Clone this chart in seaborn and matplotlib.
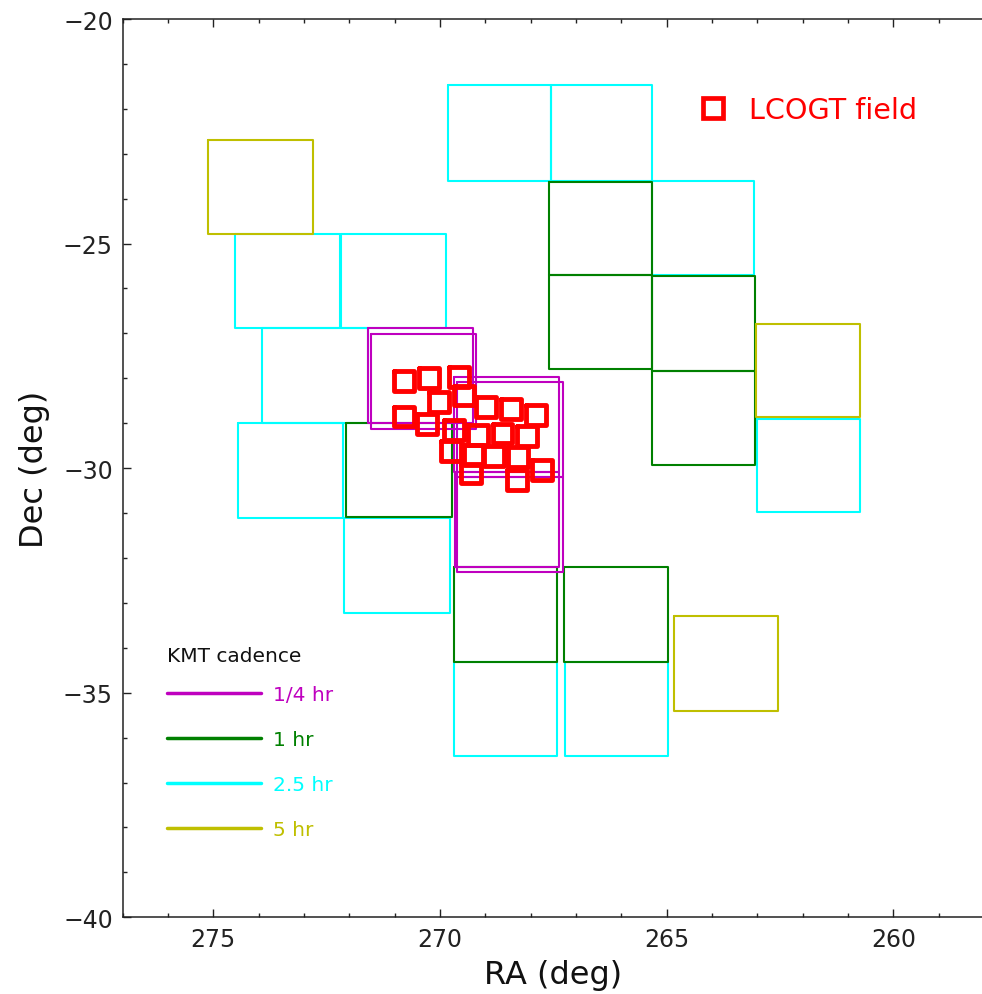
import numpy as np
import pandas as pd
import matplotlib
matplotlib.use("Agg")
import matplotlib.pyplot as plt
from matplotlib.lines import Line2D
from matplotlib.ticker import MultipleLocator
import seaborn as sns

# ---------------- data ----------------
# KMT fields: (RA east edge, RA west edge, Dec top, Dec bottom) in degrees
kmt_quarter_hr = [
    (271.58, 269.28, -26.88, -29.00),
    (271.52, 269.20, -27.01, -29.13),
    (269.69, 267.37, -27.97, -30.08),
    (269.62, 267.29, -28.08, -30.20),
    (269.67, 267.37, -30.08, -32.21),
    (269.62, 267.29, -30.20, -32.32),
]
kmt_one_hr = [
    (267.59, 265.33, -23.63, -25.70),
    (267.59, 265.33, -25.70, -27.79),
    (265.33, 263.05, -25.73, -27.83),
    (265.33, 263.05, -27.83, -29.94),
    (272.08, 269.74, -29.00, -31.09),
    (269.69, 267.42, -32.21, -34.31),
    (267.26, 264.98, -32.21, -34.31),
]
kmt_two_half_hr = [
    (269.83, 267.56, -21.48, -23.60),
    (267.55, 265.32, -21.48, -23.60),
    (265.32, 263.07, -23.61, -25.71),
    (274.51, 272.21, -24.79, -26.89),
    (272.19, 269.87, -24.79, -26.89),
    (273.93, 271.59, -26.89, -29.00),
    (274.45, 272.13, -29.00, -31.11),
    (272.11, 269.78, -31.11, -33.22),
    (269.69, 267.41, -34.32, -36.41),
    (267.24, 264.96, -34.32, -36.41),
    (263.01, 260.73, -28.90, -30.98),
]
kmt_five_hr = [
    (275.11, 272.79, -22.69, -24.79),
    (263.03, 260.73, -26.79, -28.87),
    (264.83, 262.54, -33.30, -35.40),
]
cadence_labels = ["1/4 hr", "1 hr", "2.5 hr", "5 hr"]
legend_title = "KMT cadence"

# LCOGT field centres (deg)
lco_ra = [270.79, 270.24, 269.58, 269.47, 270.02, 268.98, 268.43, 267.89,
          270.79, 270.29, 269.70, 269.16, 268.62, 268.09, 269.75, 269.26,
          268.80, 268.27, 269.32, 268.30, 267.74]
lco_dec = [-28.06, -27.99, -27.97, -28.38, -28.53, -28.64, -28.68, -28.82,
           -28.85, -29.02, -29.15, -29.26, -29.23, -29.29, -29.62, -29.70,
           -29.73, -29.76, -30.12, -30.27, -30.04]
lco_size = 0.44  # deg, side of LCOGT field

# ---------------- build outline tables ----------------
rows = []
fid = 0
for lab, fields in zip(cadence_labels,
                       [kmt_quarter_hr, kmt_one_hr, kmt_two_half_hr, kmt_five_hr]):
    for (ra1, ra2, d1, d2) in fields:
        for ra, de in [(ra1, d1), (ra2, d1), (ra2, d2), (ra1, d2), (ra1, d1)]:
            rows.append(dict(ra=ra, dec=de, field=fid, cadence=lab))
        fid += 1
kmt_df = pd.DataFrame(rows)

lrows = []
h = lco_size / 2
for i, (ra, de) in enumerate(zip(lco_ra, lco_dec)):
    for dx, dy in [(h, h), (-h, h), (-h, -h), (h, -h), (h, h)]:
        lrows.append(dict(ra=ra + dx, dec=de + dy, field=i))
lco_df = pd.DataFrame(lrows)

# ---------------- style ----------------
sns.set_style("white")
plt.rcParams["font.family"] = ["DejaVu Sans"]

colors = {"1/4 hr": (0.75, 0, 0.75), "1 hr": (0, 0.5, 0),
          "2.5 hr": (0, 1, 1), "5 hr": (0.75, 0.75, 0)}

W, H = 982, 995
fig = plt.figure(figsize=(W / 100, H / 100), dpi=100)
ax_left, ax_right, ax_top, ax_bot = 122.6, 984.0, 20.0, 918.3
ax = fig.add_axes([ax_left / W, 1 - ax_bot / H, (ax_right - ax_left) / W,
                   (ax_bot - ax_top) / H])

draw_order = ["2.5 hr", "1 hr", "5 hr", "1/4 hr"]
sns.lineplot(data=kmt_df, x="ra", y="dec", units="field", estimator=None,
             sort=False, hue="cadence", hue_order=draw_order, palette=colors,
             lw=1.5, legend=False, ax=ax)
sns.lineplot(data=lco_df, x="ra", y="dec", units="field", estimator=None,
             sort=False, color="red", lw=3.5, legend=False, ax=ax,
             solid_joinstyle="round")

ax.set_xlim(277, 258)
ax.set_ylim(-40, -20)
ax.xaxis.set_major_locator(MultipleLocator(5))
ax.xaxis.set_minor_locator(MultipleLocator(1))
ax.yaxis.set_major_locator(MultipleLocator(5))
ax.yaxis.set_minor_locator(MultipleLocator(1))
ax.tick_params(which="both", direction="in", top=True, right=False,
               bottom=True, left=True, colors="#222222", width=1.0)
ax.tick_params(which="major", length=6, labelsize=17, pad=7)
ax.tick_params(which="minor", length=3)
for s in ax.spines.values():
    s.set_color("#222222")
    s.set_linewidth(1.1)

ax.set_xlabel("RA (deg)", fontsize=23, labelpad=6, color="#111111")
ax.set_ylabel("Dec (deg)", fontsize=23, labelpad=9, color="#111111")

# KMT cadence legend (title drawn as text, entries as legend)
ax.text(0.0515, 0.2912, legend_title, transform=ax.transAxes, ha="left",
        va="center", fontsize=14.5, color="#111111")
handles = [Line2D([], [], color=colors[c], lw=2.5) for c in cadence_labels]
leg = ax.legend(handles, cadence_labels, loc="upper left",
                bbox_to_anchor=(0.0512, 0.2586), frameon=False, fontsize=14.5,
                handlelength=4.7, handletextpad=0.58, labelspacing=1.29,
                borderpad=0, borderaxespad=0, labelcolor="linecolor")
ax.add_artist(leg)

# LCOGT legend
lh = Line2D([], [], ls="none", marker="s", ms=14.5, mfc="none", mec="red",
            mew=3.4)
ax.legend([lh], ["LCOGT field"], loc="center left",
          bbox_to_anchor=(0.669, 0.8990), frameon=False, fontsize=20.6,
          handlelength=1.0, handletextpad=0.75, borderpad=0, borderaxespad=0,
          labelcolor="red")

fig.savefig("out.png", dpi=100)
